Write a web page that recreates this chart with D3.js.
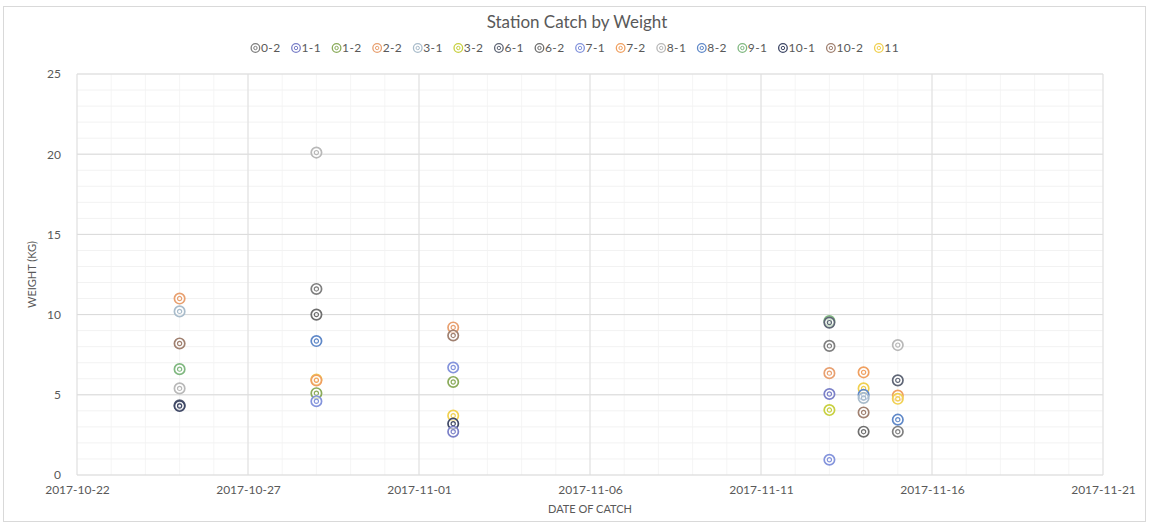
<!DOCTYPE html>
<html>
<head>
<meta charset="utf-8">
<script src="https://cdn.jsdelivr.net/npm/d3@7"></script>
<style>
  body { margin: 0; background: #fff; }
  text { font-family: Lato, "Open Sans", sans-serif; fill: #595959; }
</style>
</head>
<body>
<div id="chart"></div>
<script>
var stations = ["0-2", "1-1", "1-2", "2-2", "3-1", "3-2", "6-1", "6-2", "7-1", "7-2", "8-1", "8-2", "9-1", "10-1", "10-2", "11"]
var stationColors = ["#7f7f7f", "#7b80c8", "#8aab5a", "#e8a070", "#a9bccb", "#c8d040", "#5f6676", "#6e6e6e",
    "#8494dc", "#f0a060", "#b8b8b8", "#5f88c8", "#80b880", "#3f4866", "#a08070", "#f0d050"]
var yTicks = [0, 5, 10, 15, 20, 25]
var xTicks = ["2017-10-22", "2017-10-27", "2017-11-01", "2017-11-06", "2017-11-11", "2017-11-16", "2017-11-21"]

// station, date, kg
var catches = [
    ["2-2", "2017-10-25", 11.0], ["3-1", "2017-10-25", 10.2], ["10-2", "2017-10-25", 8.2],
    ["9-1", "2017-10-25", 6.6], ["8-1", "2017-10-25", 5.4], ["6-1", "2017-10-25", 4.35], ["10-1", "2017-10-25", 4.3],

    ["8-1", "2017-10-29", 20.1], ["0-2", "2017-10-29", 11.6], ["6-2", "2017-10-29", 10.0],
    ["8-2", "2017-10-29", 8.35], ["11", "2017-10-29", 5.95], ["7-2", "2017-10-29", 5.9],
    ["1-2", "2017-10-29", 5.1], ["7-1", "2017-10-29", 4.6],

    ["2-2", "2017-11-02", 9.2], ["10-2", "2017-11-02", 8.7], ["7-1", "2017-11-02", 6.7],
    ["1-2", "2017-11-02", 5.8], ["11", "2017-11-02", 3.7], ["10-1", "2017-11-02", 3.2], ["1-1", "2017-11-02", 2.7],

    ["9-1", "2017-11-13", 9.6], ["6-1", "2017-11-13", 9.5], ["0-2", "2017-11-13", 8.05],
    ["2-2", "2017-11-13", 6.35], ["1-1", "2017-11-13", 5.05], ["3-2", "2017-11-13", 4.05], ["7-1", "2017-11-13", 0.95],

    ["7-2", "2017-11-14", 6.4], ["11", "2017-11-14", 5.4], ["8-2", "2017-11-14", 5.0],
    ["3-1", "2017-11-14", 4.8], ["10-2", "2017-11-14", 3.9], ["6-2", "2017-11-14", 2.7],

    ["8-1", "2017-11-15", 8.1], ["6-1", "2017-11-15", 5.9], ["7-2", "2017-11-15", 4.95],
    ["11", "2017-11-15", 4.75], ["8-2", "2017-11-15", 3.45], ["0-2", "2017-11-15", 2.7]
]

var W = 1149, H = 525
var margin = {top: 74, right: 46, bottom: 50, left: 77}
var width = W - margin.left - margin.right
var height = H - margin.top - margin.bottom

var parse = d3.timeParse("%Y-%m-%d")
var fmt = d3.timeFormat("%Y-%m-%d")
var color = d3.scaleOrdinal().domain(stations).range(stationColors)

var svg = d3.select("#chart").append("svg")
    .attr("width", W)
    .attr("height", H)

// outer chart border
svg.append("rect")
    .attr("x", 3.5).attr("y", 6.5)
    .attr("width", W - 7).attr("height", H - 10)
    .attr("fill", "#fff")
    .attr("stroke", "#d9d9d9")

var x = d3.scaleTime()
    .domain([parse(xTicks[0]), parse(xTicks[xTicks.length - 1])])
    .range([0, width])
var y = d3.scaleLinear().domain([0, 25]).range([height, 0])

var g = svg.append("g")
    .attr("transform", "translate(" + margin.left + "," + margin.top + ")")

// minor grid
var days = d3.timeDay.range(x.domain()[0], d3.timeDay.offset(x.domain()[1], 1))
g.append("g").selectAll("line")
    .data(days)
    .enter().append("line")
    .attr("x1", function (d) { return x(d) }).attr("x2", function (d) { return x(d) })
    .attr("y1", 0).attr("y2", height)
    .attr("stroke", "#f5f5f5")
g.append("g").selectAll("line")
    .data(d3.range(0, 26))
    .enter().append("line")
    .attr("x1", 0).attr("x2", width)
    .attr("y1", function (d) { return y(d) }).attr("y2", function (d) { return y(d) })
    .attr("stroke", "#f2f2f2")

// major grid
g.append("g").selectAll("line")
    .data(yTicks)
    .enter().append("line")
    .attr("x1", 0).attr("x2", width)
    .attr("y1", function (d) { return y(d) }).attr("y2", function (d) { return y(d) })
    .attr("stroke", "#d9d9d9")
g.append("g").selectAll("line")
    .data(xTicks.map(parse))
    .enter().append("line")
    .attr("x1", function (d) { return x(d) }).attr("x2", function (d) { return x(d) })
    .attr("y1", 0).attr("y2", height)
    .attr("stroke", "#dedede")

// axes (labels only)
var xAxis = g.append("g")
    .attr("transform", "translate(0," + height + ")")
    .call(d3.axisBottom(x).tickValues(xTicks.map(parse)).tickFormat(fmt).tickSize(0).tickPadding(10))
var yAxis = g.append("g")
    .call(d3.axisLeft(y).tickValues(yTicks).tickSize(0).tickPadding(16))
xAxis.select(".domain").remove()
yAxis.select(".domain").remove()
svg.selectAll(".tick text").style("font-size", "12px").attr("fill", "#595959")
    .style("font-family", "Lato, 'Open Sans', sans-serif")

// points
var pts = g.append("g").selectAll("g")
    .data(catches)
    .enter().append("g")
    .attr("transform", function (d) { return "translate(" + x(parse(d[1])) + "," + y(d[2]) + ")" })
pts.append("circle")
    .attr("r", 5.2)
    .attr("fill", "#fff")
    .attr("fill-opacity", 0.6)
    .attr("stroke", function (d) { return color(d[0]) })
    .attr("stroke-width", 1.7)
pts.append("circle")
    .attr("r", 2.1)
    .attr("fill", "none")
    .attr("stroke", function (d) { return color(d[0]) })
    .attr("stroke-width", 1.2)

// title
svg.append("text")
    .attr("x", 577).attr("y", 28)
    .attr("text-anchor", "middle")
    .style("font-size", "17px")
    .text("Station Catch by Weight")

// axis titles
svg.append("text")
    .attr("transform", "translate(36," + (margin.top + height / 2) + ") rotate(-90)")
    .attr("text-anchor", "middle")
    .style("font-size", "11px")
    .text("WEIGHT (KG)")
svg.append("text")
    .attr("x", margin.left + width / 2).attr("y", 513)
    .attr("text-anchor", "middle")
    .style("font-size", "11px")
    .text("DATE OF CATCH")

// legend
var legend = svg.append("g")
var lx = 0
stations.forEach(function (s) {
    var item = legend.append("g").attr("transform", "translate(" + lx + ",0)")
    item.append("circle").attr("cx", 4.5).attr("cy", 0).attr("r", 4.3)
        .attr("fill", "none").attr("stroke", color(s)).attr("stroke-width", 1.3)
    item.append("circle").attr("cx", 4.5).attr("cy", 0).attr("r", 1.7)
        .attr("fill", "none").attr("stroke", color(s)).attr("stroke-width", 1)
    var t = item.append("text").attr("x", 10).attr("y", 4)
        .style("font-size", "12px")
        .style("letter-spacing", "0.4px")
        .text(s)
    lx += 10 + t.node().getComputedTextLength() + 11
})
var lw = lx - 11
legend.attr("transform", "translate(" + (575 - lw / 2) + ",48)")
</script>
</body>
</html>
